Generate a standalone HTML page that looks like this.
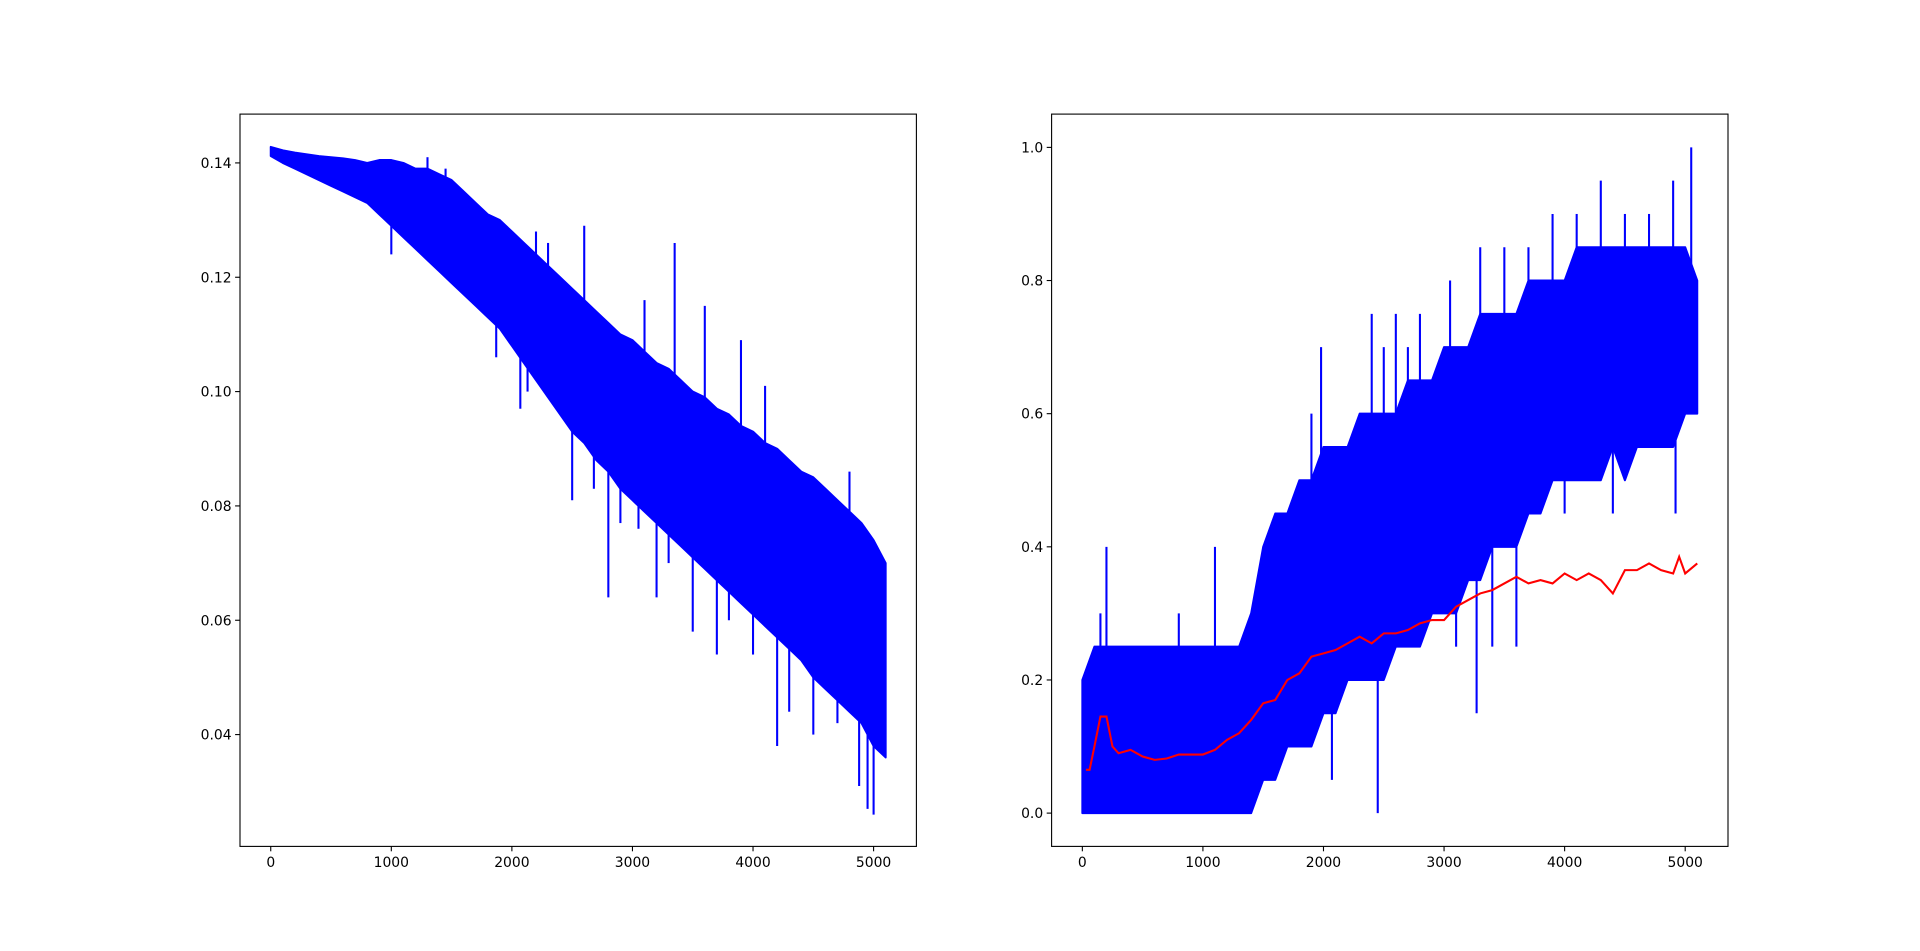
<!DOCTYPE html>
<html><head><meta charset="utf-8">
<style>html,body{margin:0;padding:0;background:#fff;}svg{display:block;font-family:"DejaVu Sans","Liberation Sans",sans-serif;}</style>
</head><body>
<svg id="fig" width="1920" height="951" viewBox="0 0 1920 951" xmlns="http://www.w3.org/2000/svg"></svg>
<script>
const xs = [0,100,200,300,400,500,600,700,800,900,1000,1100,1200,1300,1400,1500,1600,1700,1800,1900,2000,2100,2200,2300,2400,2500,2600,2700,2800,2900,3000,3100,3200,3300,3400,3500,3600,3700,3800,3900,4000,4100,4200,4300,4400,4500,4600,4700,4800,4900,5000,5100];
const lossHigh = [0.1428,0.1422,0.1418,0.1415,0.1412,0.1410,0.1408,0.1405,0.140,0.1405,0.1405,0.140,0.139,0.139,0.138,0.137,0.135,0.133,0.131,0.130,0.128,0.126,0.124,0.122,0.120,0.118,0.116,0.114,0.112,0.110,0.109,0.107,0.105,0.104,0.102,0.100,0.099,0.097,0.096,0.094,0.093,0.091,0.090,0.088,0.086,0.085,0.083,0.081,0.079,0.077,0.074,0.070];
const lossLow = [0.1412,0.140,0.139,0.138,0.137,0.136,0.135,0.134,0.133,0.131,0.129,0.127,0.125,0.123,0.121,0.119,0.117,0.115,0.113,0.111,0.108,0.105,0.102,0.099,0.096,0.093,0.091,0.088,0.086,0.083,0.081,0.079,0.077,0.075,0.073,0.071,0.069,0.067,0.065,0.063,0.061,0.059,0.057,0.055,0.053,0.050,0.048,0.046,0.044,0.042,0.038,0.036];
const lossSpikeX = [1000,1300,1450,1870,2070,2130,2200,2300,2500,2600,2680,2800,2900,3050,3100,3200,3300,3350,3500,3600,3700,3800,3900,4000,4100,4200,4250,4300,4380,4500,4600,4700,4800,4880,4950,5000];
const lossSpikeY = [0.124,0.141,0.139,0.106,0.097,0.100,0.128,0.126,0.081,0.129,0.083,0.064,0.077,0.076,0.116,0.064,0.070,0.126,0.058,0.115,0.054,0.060,0.109,0.054,0.101,0.038,0.063,0.044,0.086,0.040,0.081,0.042,0.086,0.031,0.027,0.026];
const accHigh = [0.2,0.25,0.25,0.25,0.25,0.25,0.25,0.25,0.25,0.25,0.25,0.25,0.25,0.25,0.3,0.4,0.45,0.45,0.5,0.5,0.55,0.55,0.55,0.6,0.6,0.6,0.6,0.65,0.65,0.65,0.7,0.7,0.7,0.75,0.75,0.75,0.75,0.8,0.8,0.8,0.8,0.85,0.85,0.85,0.85,0.85,0.85,0.85,0.85,0.85,0.85,0.8];
const accLow = [0,0,0,0,0,0,0,0,0,0,0,0,0,0,0,0.05,0.05,0.1,0.1,0.1,0.15,0.15,0.2,0.2,0.2,0.2,0.25,0.25,0.25,0.3,0.3,0.3,0.35,0.35,0.4,0.4,0.4,0.45,0.45,0.5,0.5,0.5,0.5,0.5,0.55,0.5,0.55,0.55,0.55,0.55,0.6,0.6];
const accSpikeX = [150,200,800,1100,1900,1980,2070,2400,2450,2500,2600,2700,2800,3050,3100,3270,3300,3400,3500,3600,3700,3900,4000,4100,4300,4400,4500,4700,4900,4920,5050];
const accSpikeY = [0.3,0.4,0.3,0.4,0.6,0.7,0.05,0.75,0.0,0.7,0.75,0.7,0.75,0.8,0.25,0.15,0.85,0.25,0.85,0.25,0.85,0.9,0.45,0.9,0.95,0.45,0.9,0.9,0.95,0.45,1.0];
const avgX = [30,60,100,150,200,250,300,400,500,600,700,800,900,1000,1100,1200,1300,1400,1500,1600,1700,1800,1900,2000,2100,2200,2300,2400,2500,2600,2700,2800,2900,3000,3100,3200,3300,3400,3500,3600,3700,3800,3900,4000,4100,4200,4300,4400,4500,4600,4700,4800,4900,4950,5000,5100];
const avgY = [0.065,0.065,0.1,0.145,0.145,0.1,0.09,0.095,0.085,0.08,0.082,0.088,0.088,0.088,0.095,0.11,0.12,0.14,0.165,0.17,0.2,0.21,0.235,0.24,0.245,0.255,0.265,0.255,0.27,0.27,0.275,0.285,0.29,0.29,0.31,0.32,0.33,0.335,0.345,0.355,0.345,0.35,0.345,0.36,0.35,0.36,0.35,0.33,0.365,0.365,0.375,0.365,0.36,0.385,0.36,0.375];
const xTicks = [0,1000,2000,3000,4000,5000];
const lossTicks = [0.04,0.06,0.08,0.10,0.12,0.14];
const accTicks = [0.0,0.2,0.4,0.6,0.8,1.0];

const NS="http://www.w3.org/2000/svg";
const svg=document.getElementById('fig');
function mk(tag,attrs,parent){const e=document.createElementNS(NS,tag);for(const k in attrs)e.setAttribute(k,attrs[k]);(parent||svg).appendChild(e);return e;}
function interp(arrX,arrY,x){for(let i=0;i<arrX.length-1;i++){if(x>=arrX[i]&&x<=arrX[i+1]){const t=(x-arrX[i])/(arrX[i+1]-arrX[i]);return arrY[i]+t*(arrY[i+1]-arrY[i]);}}return arrY[arrY.length-1];}

function panel(name,x0,x1,ymin,ymax,hi,lo,spX,spY,yticks,fmt,extra){
  const T=114.1,B=846.4;
  const sx=v=>x0+(v+255)/5610*(x1-x0);
  const sy=v=>B-(v-ymin)/(ymax-ymin)*(B-T);
  const g=mk('g',{});
  
  
  const clipId=name+'-clip';
  const cp=mk('clipPath',{id:clipId},g);mk('rect',{x:x0,y:T,width:x1-x0,height:B-T},cp);
  const d=mk('g',{'clip-path':'url(#'+clipId+')'},g);
  let pts=xs.map((x,i)=>sx(x)+','+sy(hi[i]));
  for(let i=xs.length-1;i>=0;i--)pts.push(sx(xs[i])+','+sy(lo[i]));
  const band=mk('polygon',{points:pts.join(' '),fill:'#0000ff',stroke:'#0000ff','stroke-width':2,'stroke-linejoin':'round'},d);
  
  
  spX.forEach((x,i)=>{
    const h=interp(xs,hi,x),l=interp(xs,lo,x);
    const base=spY[i]>h?h:l;
    const s=mk('line',{x1:sx(x),x2:sx(x),y1:sy(base),y2:sy(spY[i]),stroke:'#0000ff','stroke-width':2.08},d);
    
    
  });
  if(extra)extra(d,sx,sy);
  const fr=mk('rect',{x:x0,y:T,width:x1-x0,height:B-T,fill:'none',stroke:'#000','stroke-width':1.1},g);
  
  
  xTicks.forEach(t=>{const X=sx(t);mk('line',{x1:X,x2:X,y1:B,y2:B+4.9,stroke:'#000','stroke-width':1.1},g);
    const tx=mk('text',{x:X,y:B+20.5,'font-size':13.9,'text-anchor':'middle',fill:'#000'},g);tx.textContent=t;
    
    });
  yticks.forEach(t=>{const Y=sy(t);mk('line',{x1:x0-4.9,x2:x0,y1:Y,y2:Y,stroke:'#000','stroke-width':1.1},g);
    const tx=mk('text',{x:x0-8.4,y:Y+5,'font-size':13.9,'text-anchor':'end',fill:'#000'},g);tx.textContent=fmt(t);
    
    });
}
panel('loss-chart',240,916.4,0.02044,0.14854,lossHigh,lossLow,lossSpikeX,lossSpikeY,lossTicks,t=>t.toFixed(2));
panel('accuracy-chart',1051.6,1728,-0.05,1.05,accHigh,accLow,accSpikeX,accSpikeY,accTicks,t=>t.toFixed(1),(d,sx,sy)=>{
  const p=mk('polyline',{points:avgX.map((x,i)=>sx(x)+','+sy(avgY[i])).join(' '),fill:'none',stroke:'#ff0000','stroke-width':2.08},d);
  
  
});
</script>
</body></html>
